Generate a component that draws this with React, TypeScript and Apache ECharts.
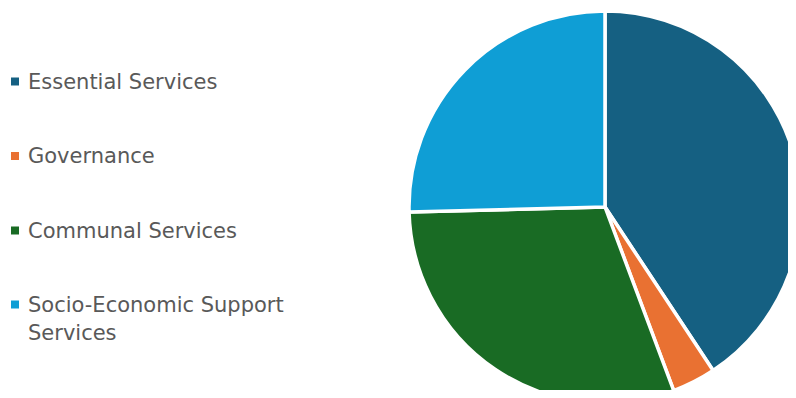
import React, { useEffect, useRef } from "react";
import * as echarts from "echarts";

const categories = ["Essential Services", "Governance", "Communal Services", "Socio-Economic Support Services"];
const legendLabels = ["Essential Services", "Governance", "Communal Services", "Socio-Economic Support\nServices"];
const values = [40.7, 3.6, 30.3, 25.4];
const colors = ["#156082", "#E97132", "#196B24", "#0F9ED5"];

export default function App() {
  const ref = useRef<HTMLDivElement>(null);
  useEffect(() => {
    const chart = echarts.init(ref.current!, null, { renderer: "svg" });
    const centers = [81.5, 156, 230.5, 304.5];
    const legends = categories.map((name, i) => {
      const multi = i === 3;
      return {
        orient: "vertical",
        left: 11,
        top: centers[i] - 14,
        padding: 0,
        data: [name],
        icon: multi ? "path://M0,0h8v8h-8zM0,36h8v0h-8z" : "rect",
        itemWidth: 8,
        itemHeight: multi ? 36 : 8,
        selectedMode: false,
        itemStyle: { borderWidth: 0 },
        formatter: () => legendLabels[i],
        textStyle: {
          fontSize: 21,
          lineHeight: 28,
          color: "#595959",
          fontFamily: "'DejaVu Sans', sans-serif",
          padding: [0, 0, 0, 4],
        },
      };
    });
    chart.setOption({
      animation: false,
      color: colors,
      legend: legends,
      series: [
        {
          type: "pie",
          center: [605, 207],
          radius: 196,
          startAngle: 90,
          clockwise: true,
          label: { show: false },
          labelLine: { show: false },
          itemStyle: { borderColor: "#ffffff", borderWidth: 3.5 },
          data: categories.map((name, i) => ({ name, value: values[i] })),
        },
      ],
    });
    return () => chart.dispose();
  }, []);
  return <div ref={ref} style={{ width: 796, height: 398, margin: -8 }} />;
}
